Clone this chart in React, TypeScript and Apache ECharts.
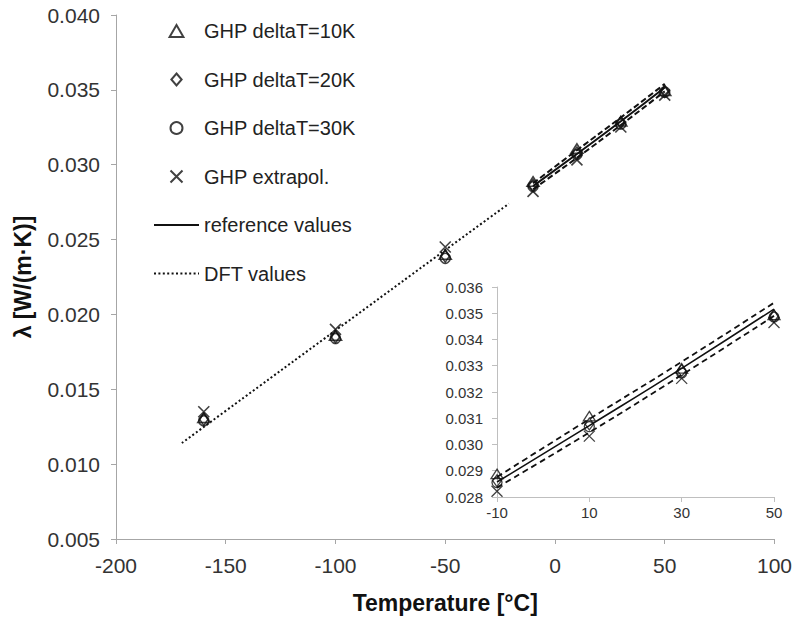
import React, { useEffect, useRef } from 'react';
import * as echarts from 'echarts';

const temperatures = [-160, -100, -50, -10, 10, 30, 50];
const ghp10K = [0.0131, 0.0186, 0.024, 0.02888, 0.03108, 0.0329, 0.03494];
const ghp20K = [0.013, 0.0185, 0.0239, 0.02862, 0.03078, 0.03282, 0.0349];
const ghp30K = [0.0129, 0.0184, 0.02375, 0.02855, 0.03068, 0.03272, 0.03485];
const ghpExtrapol = [0.0135, 0.019, 0.0245, 0.02822, 0.03032, 0.03252, 0.03465];

const refTemperatures = [-10, 10, 30, 50];
const referenceValues = [0.02857, 0.03072, 0.0329, 0.03516];
const referenceUpper = [0.02876, 0.03097, 0.03315, 0.0354];
const referenceLower = [0.02836, 0.03046, 0.03265, 0.0349];

const dftTemperatures = [-170, -150, -100, -50, -21];
const dftValues = [0.01141, 0.01356, 0.01893, 0.0243, 0.0274];

const mainXTicks = { min: -200, max: 100, interval: 50 };
const mainYTicks = { min: 0.005, max: 0.04, interval: 0.005 };
const insetXTicks = { min: -10, max: 50, interval: 20 };
const insetYTicks = { min: 0.028, max: 0.036, interval: 0.001 };

const zip = (xs: number[], ys: number[]) => xs.map((x, i) => [x, ys[i]]);

const FONT = '"Liberation Sans", Arial, sans-serif';
const INK = '#111';

const trianglePath = 'path://M6,0L12,10.4L0,10.4Z';
const diamondPath = 'path://M6,0L12,7L6,14L0,7Z';
const crossPath = 'path://M0,0L10,10M10,0L0,10';

const scatterDefs = [
  { name: 'GHP deltaT=10K', data: ghp10K, symbol: trianglePath, size: [12, 11] },
  { name: 'GHP deltaT=20K', data: ghp20K, symbol: diamondPath, size: [10, 12] },
  { name: 'GHP deltaT=30K', data: ghp30K, symbol: 'circle', size: 10 },
  { name: 'GHP extrapol.', data: ghpExtrapol, symbol: crossPath, size: 11 },
];

export default function App() {
  const ref = useRef<HTMLDivElement>(null);
  useEffect(() => {
    if (!ref.current) return;
    const chart = echarts.init(ref.current, undefined, { renderer: 'svg' });
    const series: any[] = [];
    const addScatter = (axis: number, slice: number, bw: number) => {
      scatterDefs.forEach((d) => {
        series.push({
          type: 'scatter',
          name: d.name,
          xAxisIndex: axis,
          yAxisIndex: axis,
          symbol: d.symbol,
          symbolSize: d.size,
          symbolKeepAspect: true,
          data: zip(temperatures.slice(slice), d.data.slice(slice)),
          itemStyle: { color: 'transparent', borderColor: INK, borderWidth: bw },
          z: 5,
        });
      });
    };
    const addLine = (axis: number, name: string, xs: number[], ys: number[], width: number, type: any) => {
      series.push({
        type: 'line',
        name,
        xAxisIndex: axis,
        yAxisIndex: axis,
        data: zip(xs, ys),
        symbol: 'none',
        smooth: true,
        itemStyle: { color: 'transparent', borderColor: 'transparent' },
        lineStyle: { color: INK, width, type },
      });
    };
    addScatter(0, 0, 1.6);
    addLine(0, 'reference values', refTemperatures, referenceValues, 2, 'solid');
    addLine(0, 'ref upper', refTemperatures, referenceUpper, 2, [6, 3]);
    addLine(0, 'ref lower', refTemperatures, referenceLower, 2, [6, 3]);
    addLine(0, 'DFT values', dftTemperatures, dftValues, 2, [2, 2.4]);
    addScatter(1, 3, 1.3);
    addLine(1, 'reference values', refTemperatures, referenceValues, 1.6, 'solid');
    addLine(1, 'ref upper', refTemperatures, referenceUpper, 1.8, [6, 4]);
    addLine(1, 'ref lower', refTemperatures, referenceLower, 1.8, [6, 4]);

    const axisLine = { show: true, onZero: false, lineStyle: { color: '#a6a6a6', width: 1 } };
    const axisTick = { show: true, length: 5, lineStyle: { color: '#a6a6a6' } };
    const insetLine = { show: true, onZero: false, lineStyle: { color: '#bfbfbf' } };
    const insetTick = { show: true, length: 5, lineStyle: { color: '#bfbfbf' } };

    chart.setOption({
      animation: false,
      backgroundColor: '#fff',
      textStyle: { fontFamily: FONT },
      legend: {
        orient: 'vertical',
        left: 153,
        top: 21,
        padding: 0,
        itemWidth: 45,
        itemHeight: 12,
        itemGap: 28.5,
        symbolKeepAspect: true,
        data: [
          'GHP deltaT=10K',
          'GHP deltaT=20K',
          'GHP deltaT=30K',
          'GHP extrapol.',
          'reference values',
          'DFT values',
        ],
        textStyle: { fontFamily: FONT, fontSize: 20, color: '#222' },
        selectedMode: false,
      },
      grid: [
        { left: 116, right: 17, top: 15, bottom: 82 },
        { left: 497, width: 277, top: 287, height: 210 },
      ],
      xAxis: [
        {
          type: 'value',
          gridIndex: 0,
          ...mainXTicks,
          name: 'Temperature [°C]',
          nameLocation: 'middle',
          nameGap: 52,
          nameTextStyle: { fontFamily: FONT, fontSize: 23, fontWeight: 'bold', color: '#111' },
          axisLine,
          axisTick,
          splitLine: { show: false },
          axisLabel: { fontSize: 21, color: '#333', margin: 16, fontFamily: FONT },
        },
        {
          type: 'value',
          gridIndex: 1,
          ...insetXTicks,
          axisLine: insetLine,
          axisTick: insetTick,
          splitLine: { show: false },
          axisLabel: { fontSize: 15, color: '#333', margin: 8, fontFamily: FONT },
        },
      ],
      yAxis: [
        {
          type: 'value',
          gridIndex: 0,
          ...mainYTicks,
          name: 'λ [W/(m·K)]',
          nameLocation: 'middle',
          nameGap: 82,
          nameTextStyle: { fontFamily: FONT, fontSize: 23, fontWeight: 'bold', color: '#111' },
          axisLine,
          axisTick,
          splitLine: { show: false },
          axisLabel: {
            fontSize: 21,
            color: '#333',
            margin: 16,
            fontFamily: FONT,
            formatter: (v: number) => v.toFixed(3),
          },
        },
        {
          type: 'value',
          gridIndex: 1,
          ...insetYTicks,
          axisLine: insetLine,
          axisTick: insetTick,
          splitLine: { show: false },
          axisLabel: {
            fontSize: 15,
            color: '#333',
            margin: 14,
            fontFamily: FONT,
            formatter: (v: number) => v.toFixed(3),
          },
        },
      ],
      series,
    });
    return () => chart.dispose();
  }, []);
  return (
    <div
      ref={ref}
      style={{ position: 'fixed', left: 0, top: 0, width: 795, height: 621 }}
    />
  );
}
